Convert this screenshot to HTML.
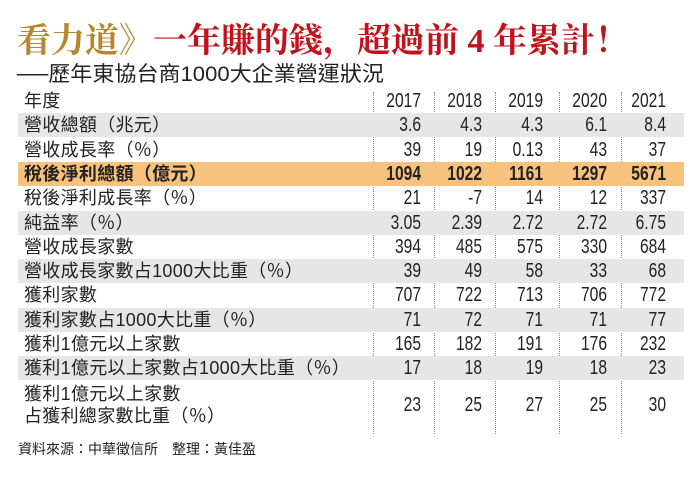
<!DOCTYPE html>
<html><head><meta charset="utf-8"><style>
body{margin:0;background:#fff;width:700px;height:481px;overflow:hidden;position:relative;font-family:"Liberation Sans","Noto Sans CJK TC",sans-serif;color:#222}
.t{position:absolute;left:17px;top:22px;font-family:"Liberation Serif","Noto Serif CJK SC",serif;font-weight:bold;font-size:34px;line-height:40px;color:#c2121c;white-space:nowrap;letter-spacing:0px}
.t span{color:#b8862e}
.s{position:absolute;left:17px;top:62px;font-size:21px;line-height:26px;white-space:nowrap;color:#222;transform:scaleX(1.05);transform-origin:left}
.r{position:absolute;left:18px;width:666px;height:24px}
.g{background:#e6e6e6}.o{background:#f7c27e;font-weight:bold}
.r .l{position:absolute;left:6px;top:0;line-height:24px;white-space:nowrap;font-size:18px;letter-spacing:0.3px}
.r .n{position:absolute;top:0;line-height:24px;text-align:right;width:80px;font-size:20px;transform:scaleX(0.78);transform-origin:right}
.d{position:absolute;top:92px;height:342px;border-left:1px dotted #888}
.f{position:absolute;left:18px;top:439px;font-size:14px}
</style></head><body>
<div class="t"><span>看力道》</span>一年賺的錢，超過前 4 年累計！</div>
<div class="s">──歷年東協台商1000大企業營運狀況</div>
<div class="d" style="left:373px"></div><div class="d" style="left:434px"></div><div class="d" style="left:495px"></div><div class="d" style="left:559px"></div><div class="d" style="left:621px"></div>
<div id="rows"></div>
<div class="f">資料來源：中華徵信所　整理：黃佳盈</div>
<script>
var data=[["年度","2017","2018","2019","2020","2021",""],
["營收總額（兆元）","3.6","4.3","4.3","6.1","8.4","g"],
["營收成長率（％）","39","19","0.13","43","37",""],
["稅後淨利總額（億元）","1094","1022","1161","1297","5671","o"],
["稅後淨利成長率（％）","21","-7","14","12","337",""],
["純益率（％）","3.05","2.39","2.72","2.72","6.75","g"],
["營收成長家數","394","485","575","330","684",""],
["營收成長家數占1000大比重（％）","39","49","58","33","68","g"],
["獲利家數","707","722","713","706","772",""],
["獲利家數占1000大比重（％）","71","72","71","71","77","g"],
["獲利1億元以上家數","165","182","191","176","232",""],
["獲利1億元以上家數占1000大比重（％）","17","18","19","18","23","g"],
["獲利1億元以上家數<br>占獲利總家數比重（％）","23","25","27","25","30",""]];
var rights=[421,482,543,607,666],h="";
data.forEach(function(r,i){
 var top=89+i*24.3,ht=24;
 if(i==12){ht=48;}
 h+='<div class="r '+r[6]+'" style="top:'+top+'px;height:'+ht+'px"><div class="l" style="'+(i==12?'line-height:22px;top:2px;':'')+'">'+r[0]+'</div>';
 for(var j=1;j<6;j++)h+='<div class="n" style="left:'+(rights[j-1]-18-80)+'px;'+(i==12?'top:12px;':'')+'">'+r[j]+'</div>';
 h+='</div>';});
document.getElementById('rows').innerHTML=h;
</script>
</body></html>
